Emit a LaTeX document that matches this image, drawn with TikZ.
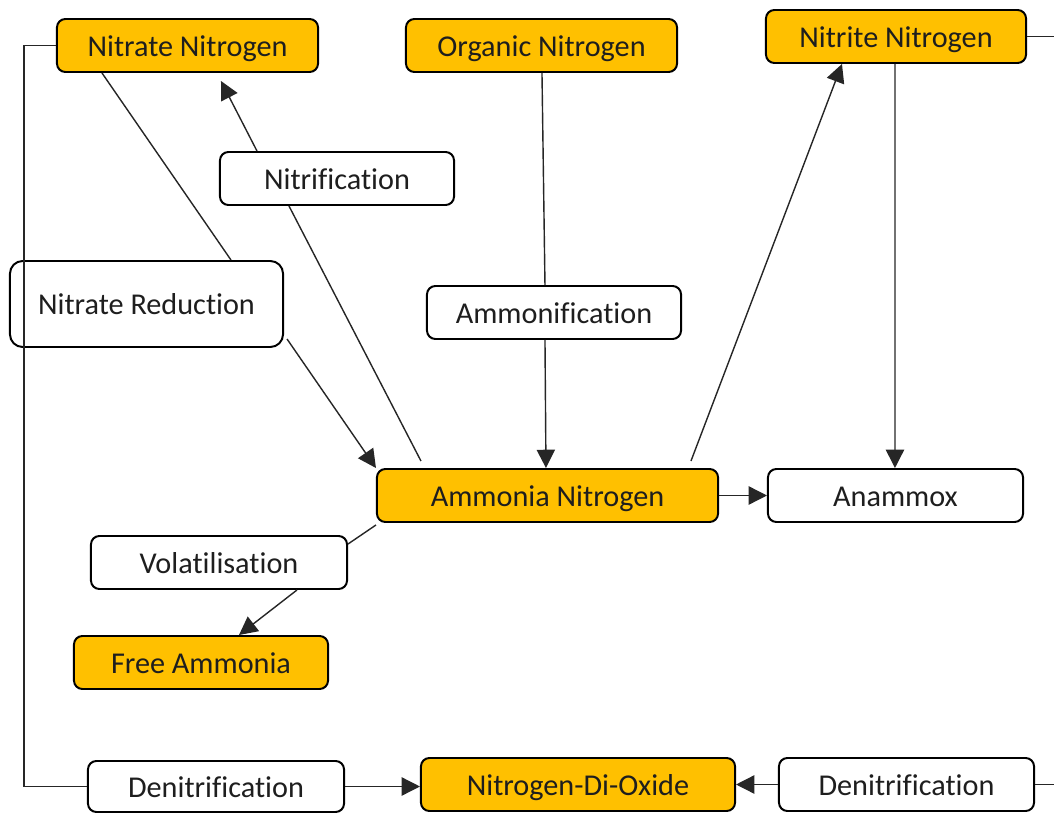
\documentclass[tikz,border=0pt]{standalone}
\usepackage{fontspec}
\setmainfont[Ligatures=CommonOff]{Carlito}
\usetikzlibrary{calc,arrows.meta}
\definecolor{boxorange}{HTML}{FFC000}
\definecolor{txt}{HTML}{1E1E1E}
\tikzset{
  base/.style={draw=black, line width=1.4pt, rounded corners=6pt, inner sep=0pt,
    font=\fontsize{21.5}{25}\selectfont, text=txt, align=center,
    text height=15.5pt, text depth=0pt},
  ybox/.style={base, fill=boxorange},
  wbox/.style={base, fill=white},
  conn/.style={line width=1pt, draw=black!85},
  arr/.style={conn, -{Triangle[length=13pt,width=13pt]}},
}
\begin{document}
\begin{tikzpicture}[x=0.025cm, y=-0.025cm]
\useasboundingbox (0,0) rectangle (1054,814);
% nodes
\node[ybox, minimum width=6.525cm, minimum height=1.325cm] (nn) at (187.5,45.5) {Nitrate Nitrogen};
\node[ybox, minimum width=6.775cm, minimum height=1.325cm] (on) at (541.5,45.5) {Organic Nitrogen};
\node[ybox, minimum width=6.5cm, minimum height=1.325cm] (ni) at (896,36.5) {Nitrite Nitrogen};
\node[wbox, minimum width=5.85cm, minimum height=1.325cm] (nf) at (337,178.5) {Nitrification};
\node[wbox, rounded corners=9pt, minimum width=6.825cm, minimum height=2.15cm] (nr) at (146.5,304) {Nitrate Reduction};
\node[wbox, minimum width=6.35cm, minimum height=1.325cm] (amf) at (554,312.5) {Ammonification};
\node[ybox, minimum width=8.525cm, minimum height=1.325cm] (am) at (547.5,495.5) {Ammonia Nitrogen};
\node[wbox, minimum width=6.375cm, minimum height=1.325cm] (an) at (895.5,495.5) {Anammox};
\node[wbox, minimum width=6.4cm, minimum height=1.325cm] (vo) at (219,562.5) {Volatilisation};
\node[ybox, minimum width=6.35cm, minimum height=1.325cm] (fa) at (201,662.5) {Free Ammonia};
\node[wbox, minimum width=6.4cm, minimum height=1.275cm] (dl) at (216,786.5) {Denitrification};
\node[ybox, minimum width=7.85cm, minimum height=1.325cm] (ndo) at (578,784.5) {Nitrogen-Di-Oxide};
\node[wbox, minimum width=6.375cm, minimum height=1.325cm] (dr) at (906.5,784.5) {Denitrification};
\coordinate (edgeA) at (1054,36.5);
\coordinate (edgeB) at (1054,784.5);
% connectors
\draw[conn] (nn.west) -- ++(-32,0) |- (dl.west);
\draw[arr] (dl.east) -- (dl.east -| ndo.west);
\draw[arr] (dr.west) -- (ndo.east);
\draw[conn] (dr.east) -- (edgeB);
\draw[conn] (ni.east) -- (edgeA);
\draw[conn] ($(nn.south west)+(46,0)$) -- ($(nr.north west)+(222,0)$);
\draw[arr] ($(nr.south east)+(3,-9)$) -- (am.north west);
\draw[conn] ($(am.north west)+(45,-7)$) -- ($(nf.south west)+(70,0)$);
\draw[arr] ($(nf.north west)+(38,0)$) -- ($(nn.south west)+(165,8)$);
\draw[conn] ($(on.south west)+(137,0)$) -- ($(amf.north west)+(119,0)$);
\draw[arr] ($(amf.south west)+(119,0)$) -- ($(am.north west)+(170,0)$);
\draw[arr] ($(am.north west)+(315,-7)$) -- ($(ni.south west)+(77,0)$);
\draw[arr] ($(ni.south west)+(130,0)$) -- ($(an.north west)+(128,0)$);
\draw[arr] (am.east) -- (an.west);
\draw[conn] ($(am.south west)+(0,2)$) -- ($(vo.north east)+(0,9)$);
\draw[arr] ($(vo.south west)+(207,0)$) -- ($(fa.north west)+(166,0)$);
\end{tikzpicture}
\end{document}
